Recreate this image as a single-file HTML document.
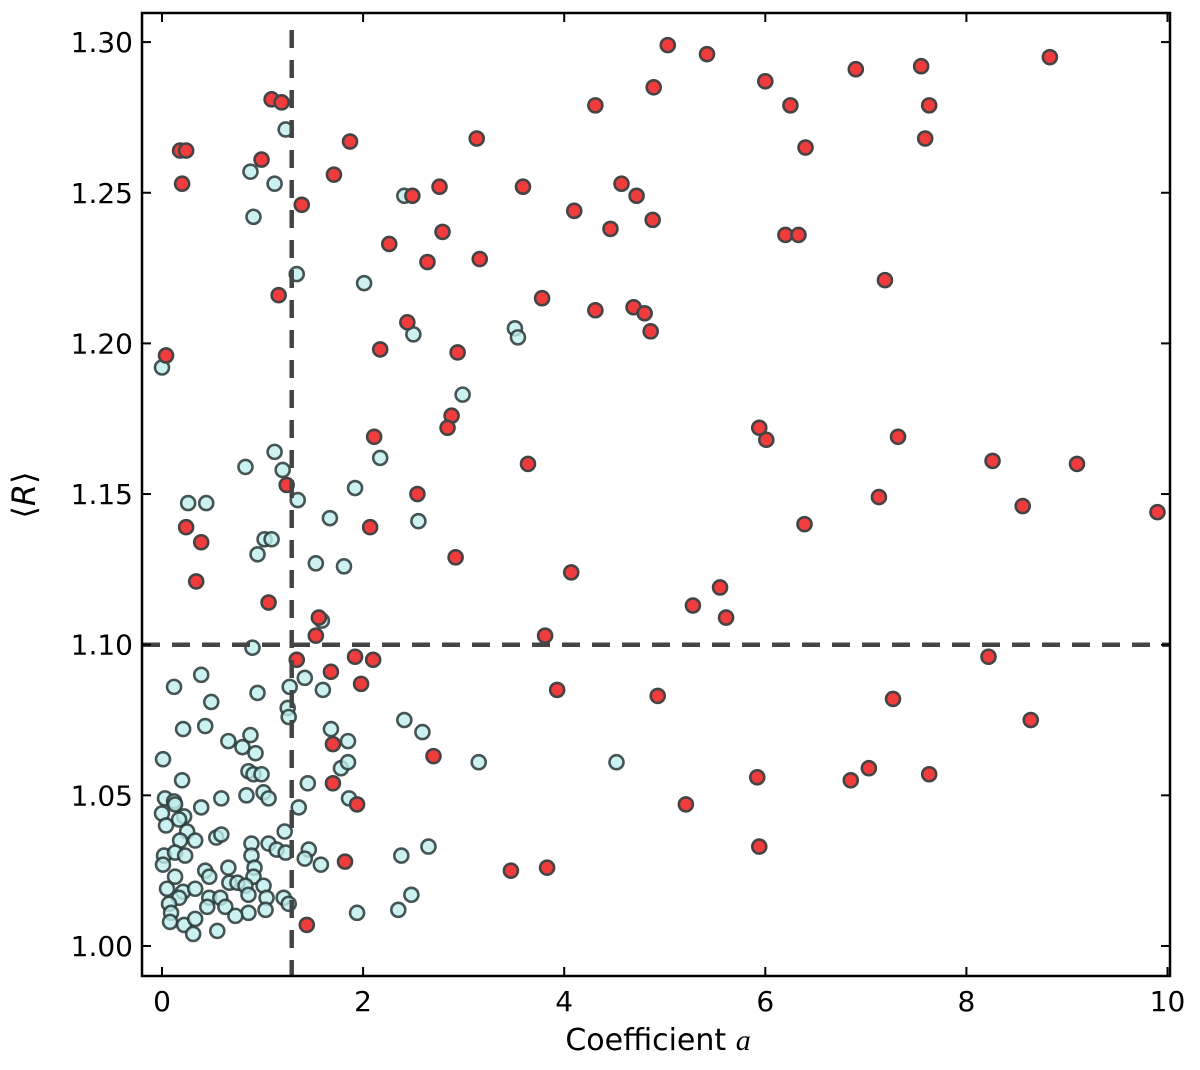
<!DOCTYPE html>
<html><head><meta charset="utf-8"><style>
html,body{margin:0;padding:0;background:#fff}
svg text{font-family:"DejaVu Sans","Liberation Sans",sans-serif}
</style></head><body>
<svg id="chart" width="1200" height="1065" xmlns="http://www.w3.org/2000/svg"></svg>
<script>
const cyanA=[0,0.91,0.88,1.12,1.23,1.34,2.01,2.41,2.50,3.51,3.54,2.99,0.83,1.12,1.20,1.35,2.17,1.92,1.67,2.55,0.26,0.44,1.02,1.09,0.95,1.53,1.81,1.59,0.90,
0.39,0.12,0.95,0.49,1.27,1.42,1.60,1.25,1.26,0.21,0.43,0.66,0.80,0.88,0.93,0.01,0.20,0.86,0.91,0.99,1.68,1.85,1.78,1.85,1.45,2.41,2.59,3.15,1.86,1.36,
0.03,0.12,0.13,0.00,0.22,0.17,0.39,0.59,0.84,1.01,1.06,0.04,0.25,0.18,0.33,0.54,0.59,1.22,0.02,0.13,0.23,0.01,0.89,1.06,1.14,1.23,0.89,0.92,0.66,0.43,
0.47,0.13,0.91,0.67,0.75,0.83,1.01,0.05,0.21,0.33,0.86,0.17,0.07,0.47,0.58,0.45,0.63,1.04,1.21,1.26,1.03,0.86,0.73,0.09,0.08,0.22,0.33,0.31,0.55,
1.46,1.42,1.58,1.94,2.35,2.48,2.38,2.65,4.52];
const cyanR=[1.192,1.242,1.257,1.253,1.271,1.223,1.220,1.249,1.203,1.205,1.202,1.183,1.159,1.164,1.158,1.148,1.162,1.152,1.142,1.141,1.147,1.147,1.135,1.135,1.130,1.127,1.126,1.108,1.099,
1.090,1.086,1.084,1.081,1.086,1.089,1.085,1.079,1.076,1.072,1.073,1.068,1.066,1.070,1.064,1.062,1.055,1.058,1.057,1.057,1.072,1.068,1.059,1.061,1.054,1.075,1.071,1.061,1.049,1.046,
1.049,1.048,1.047,1.044,1.043,1.042,1.046,1.049,1.050,1.051,1.049,1.040,1.038,1.035,1.035,1.036,1.037,1.038,1.030,1.031,1.030,1.027,1.034,1.034,1.032,1.031,1.030,1.026,1.026,1.025,
1.023,1.023,1.023,1.021,1.021,1.020,1.020,1.019,1.018,1.019,1.017,1.016,1.014,1.016,1.016,1.013,1.013,1.016,1.016,1.014,1.012,1.011,1.010,1.011,1.008,1.007,1.009,1.004,1.005,
1.032,1.029,1.027,1.011,1.012,1.017,1.030,1.033,1.061];
const redA=[0.04,0.18,0.24,0.20,1.09,1.19,0.99,1.39,1.16,1.87,1.71,2.26,2.49,2.76,2.79,2.64,2.44,2.17,2.94,3.13,3.16,3.59,3.78,2.88,2.84,2.11,2.07,2.54,2.92,3.64,
0.24,0.39,0.34,1.24,1.06,1.56,1.53,1.34,1.92,2.10,1.98,1.68,1.70,1.70,1.94,2.70,1.82,1.44,3.47,3.83,3.81,3.93,4.07,4.10,4.31,4.31,4.46,4.57,4.69,4.72,4.80,4.86,4.88,4.89,5.03,5.42,
4.93,5.21,5.28,5.55,5.61,5.94,6.01,6.00,5.92,5.94,6.25,6.20,6.33,6.40,6.39,6.90,6.85,7.03,7.19,7.32,7.13,7.27,7.55,7.59,7.63,7.63,8.26,8.22,8.56,8.64,8.83,9.10,9.90];
const redR=[1.196,1.264,1.264,1.253,1.281,1.280,1.261,1.246,1.216,1.267,1.256,1.233,1.249,1.252,1.237,1.227,1.207,1.198,1.197,1.268,1.228,1.252,1.215,1.176,1.172,1.169,1.139,1.150,1.129,1.160,
1.139,1.134,1.121,1.153,1.114,1.109,1.103,1.095,1.096,1.095,1.087,1.091,1.067,1.054,1.047,1.063,1.028,1.007,1.025,1.026,1.103,1.085,1.124,1.244,1.211,1.279,1.238,1.253,1.212,1.249,1.210,1.204,1.241,1.285,1.299,1.296,
1.083,1.047,1.113,1.119,1.109,1.172,1.168,1.287,1.056,1.033,1.279,1.236,1.236,1.265,1.140,1.291,1.055,1.059,1.221,1.169,1.149,1.082,1.292,1.268,1.279,1.057,1.161,1.096,1.146,1.075,1.295,1.160,1.144];
const xTicks=[0,2,4,6,8,10];
const yTicks=[1.00,1.05,1.10,1.15,1.20,1.25,1.30];
const xThreshold=1.29, yThreshold=1.10;

const L=142,R=1170,T=13,B=976;
const x=v=>162+v*100.55;
const y=v=>946-(v-1)*3013;
const svg=document.getElementById('chart');
const NS='http://www.w3.org/2000/svg';
function mk(tag,attrs,parent){const e=document.createElementNS(NS,tag);for(const k in attrs)e.setAttribute(k,attrs[k]);(parent||svg).appendChild(e);return e;}

const pts=mk('g',{});


cyanA.forEach((a,i)=>{const c=mk('circle',{cx:x(a),cy:y(cyanR[i]),r:7,fill:'rgba(190,238,236,0.8)',stroke:'rgba(40,55,55,0.85)','stroke-width':2.6},pts);

});
redA.forEach((a,i)=>{const c=mk('circle',{cx:x(a),cy:y(redR[i]),r:7,fill:'#f03c3c',stroke:'#444','stroke-width':2.6},pts);

});

const vl=mk('line',{x1:x(xThreshold),x2:x(xThreshold),y1:T+17,y2:B,stroke:'#444','stroke-width':4.5,'stroke-dasharray':'18,12'});


const hl=mk('line',{x1:L,x2:R,y1:y(yThreshold),y2:y(yThreshold),stroke:'#444','stroke-width':4.5,'stroke-dasharray':'18,12'});



const fr=mk('rect',{x:L,y:T,width:R-L,height:B-T,fill:'none',stroke:'#000','stroke-width':2.5});



xTicks.forEach(t=>{const px=x(t);
mk('line',{x1:px,x2:px,y1:B,y2:B-9,stroke:'#000','stroke-width':2});
mk('line',{x1:px,x2:px,y1:T,y2:T+9,stroke:'#000','stroke-width':2});
const tx=mk('text',{x:px,y:B+35,'font-size':28,'text-anchor':'middle'});tx.textContent=t;

});
yTicks.forEach(t=>{const py=y(t);
mk('line',{x1:L,x2:L+9,y1:py,y2:py,stroke:'#000','stroke-width':2});
mk('line',{x1:R,x2:R-9,y1:py,y2:py,stroke:'#000','stroke-width':2});
const tx=mk('text',{x:L-9,y:py+10,'font-size':28,'text-anchor':'end'});tx.textContent=t.toFixed(2);

});
</script>
<svg style="position:absolute;left:0;top:0" width="1200" height="1065" xmlns="http://www.w3.org/2000/svg">
<text x="658" y="1050" font-size="30" text-anchor="middle" font-family="DejaVu Sans, sans-serif">Coefficient <tspan font-style="italic" font-family="Liberation Serif, serif">a</tspan></text>
<text transform="translate(35,495) rotate(-90)" font-size="32" text-anchor="middle" font-family="Liberation Serif, serif">⟨<tspan font-style="italic">R</tspan>⟩</text>
</svg>
</body></html>
